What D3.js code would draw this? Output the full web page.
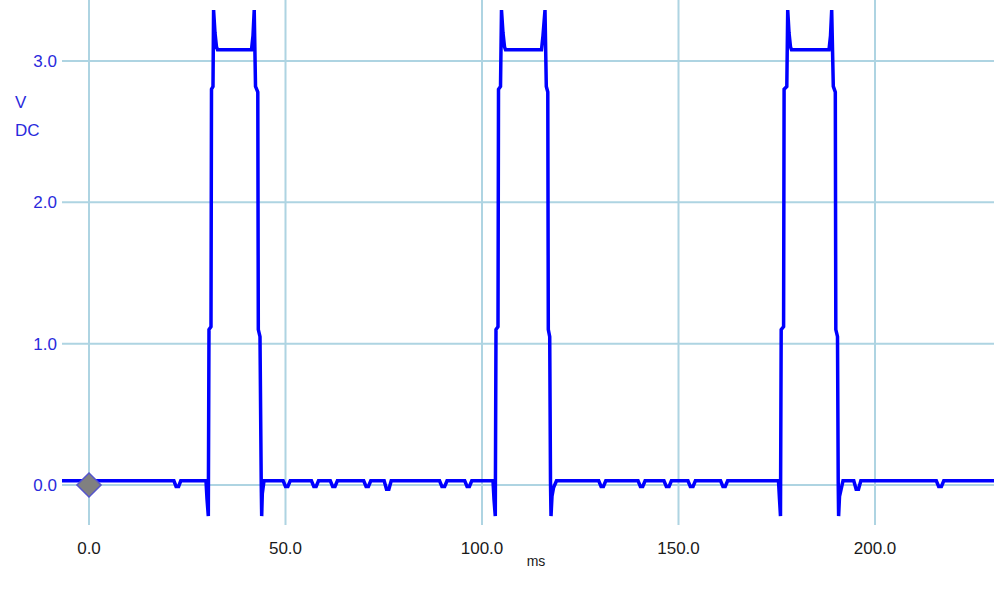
<!DOCTYPE html>
<html>
<head>
<meta charset="utf-8">
<script src="https://cdn.jsdelivr.net/npm/d3@7"></script>
<style>
  html, body { margin: 0; padding: 0; background: #ffffff; }
  svg { display: block; }
  text { font-family: "Liberation Sans", "DejaVu Sans", sans-serif; }
</style>
</head>
<body>
<div id="chart"></div>
<script>
// ============ data (ms / volts) ============
const timeMs = [
  -8, 21.6, 22.15, 22.8, 23.35,
  // pulse 1
  29.77, 30.03, 30.36, 30.53, 31.04, 31.17, 31.55, 31.70, 32.06, 32.44, 32.70,
  41.35, 41.73, 42.04, 42.37, 42.95, 43.08, 43.51, 43.82, 43.94, 44.10, 44.53,
  49.4, 50.0, 50.6, 51.2,
  56.6, 57.2, 57.8, 58.4,
  61.4, 62.0, 62.6, 63.2,
  69.9, 70.5, 71.1, 71.7,
  75.1, 75.7, 76.3, 76.9,
  89.2, 89.8, 90.5, 91.1,
  95.6, 96.2, 96.8, 97.4,
  // pulse 2
  102.80, 103.05, 103.38, 103.56, 104.07, 104.20, 104.71, 104.96, 105.34, 105.73, 105.98,
  115.14, 115.52, 116.03, 116.36, 116.74, 116.87, 117.23, 117.43, 117.56, 117.81, 118.19, 118.96,
  129.7, 130.3, 130.9, 131.5,
  139.7, 140.3, 140.9, 141.5,
  146.3, 146.9, 147.6, 148.2,
  152.4, 153.0, 153.7, 154.3,
  160.7, 161.3, 161.9, 162.5,
  // pulse 3
  175.44, 175.70, 175.95, 176.13, 176.74, 176.87, 177.56, 177.79, 178.12, 178.50, 178.75,
  188.30, 188.68, 188.98, 189.39, 189.90, 190.03, 190.46, 190.64, 190.74, 190.97, 191.86,
  194.6, 195.2, 195.8, 196.4,
  215.6, 216.2, 216.9, 217.5,
  234
];
const volts = [
  0.03, 0.03, -0.01, -0.01, 0.03,
  // pulse 1
  0.03, -0.10, -0.22, 1.10, 1.12, 2.80, 2.82, 3.36, 3.20, 3.10, 3.08,
  3.08, 3.18, 3.36, 2.82, 2.78, 1.10, 1.05, 0.02, -0.22, -0.06, 0.03,
  0.03, -0.01, -0.01, 0.03,
  0.03, -0.01, -0.01, 0.03,
  0.03, -0.01, -0.01, 0.03,
  0.03, -0.01, -0.01, 0.03,
  0.03, -0.03, -0.03, 0.03,
  0.03, -0.01, -0.01, 0.03,
  0.03, -0.01, -0.01, 0.03,
  // pulse 2
  0.03, -0.10, -0.22, 1.10, 1.12, 2.80, 2.82, 3.36, 3.20, 3.10, 3.08,
  3.08, 3.18, 3.36, 2.82, 2.78, 1.10, 1.05, 0.02, -0.22, -0.08, -0.02, 0.03,
  0.03, -0.01, -0.01, 0.03,
  0.03, -0.01, -0.01, 0.03,
  0.03, -0.01, -0.01, 0.03,
  0.03, -0.01, -0.01, 0.03,
  0.03, -0.01, -0.01, 0.03,
  // pulse 3
  0.03, -0.10, -0.22, 1.10, 1.12, 2.80, 2.82, 3.36, 3.20, 3.10, 3.08,
  3.08, 3.18, 3.36, 2.82, 2.78, 1.10, 1.05, 0.02, -0.22, -0.08, 0.03,
  0.03, -0.03, -0.03, 0.03,
  0.03, -0.01, -0.01, 0.03,
  0.03
];
const xTicks = [0, 50, 100, 150, 200];
const yTicks = [0, 1, 2, 3];
const xLabel = "ms";
const yLabel = ["V", "DC"];
const cursorMs = 0, cursorV = 0;

//===================== plot size =========================
const W = 994, H = 594;
const plot = {left: 62, right: 994, top: 0, bottom: 525};

const x = d3.scaleLinear()
  .domain([(plot.left - 89) / 3.93, (plot.right - 89) / 3.93])
  .range([plot.left, plot.right]);
const y = d3.scaleLinear()
  .domain([-40 / 141.33, 485 / 141.33])
  .range([plot.bottom, plot.top]);

const svg = d3.select("#chart").append("svg")
  .attr("width", W).attr("height", H);

svg.append("defs").append("clipPath").attr("id", "clip")
  .append("rect")
  .attr("x", plot.left).attr("y", plot.top)
  .attr("width", plot.right - plot.left).attr("height", plot.bottom - plot.top);

// grid
const gridColor = "#aed4e2";
svg.append("g").selectAll("line")
  .data(xTicks).enter().append("line")
  .attr("x1", d => x(d)).attr("x2", d => x(d))
  .attr("y1", plot.top).attr("y2", plot.bottom)
  .attr("stroke", gridColor).attr("stroke-width", 2);
svg.append("g").selectAll("line")
  .data(yTicks).enter().append("line")
  .attr("x1", plot.left).attr("x2", plot.right)
  .attr("y1", d => y(d)).attr("y2", d => y(d))
  .attr("stroke", gridColor).attr("stroke-width", 2);

// tick labels
svg.append("g").selectAll("text")
  .data(yTicks).enter().append("text")
  .attr("x", 57).attr("y", d => y(d))
  .attr("dy", "0.36em")
  .attr("text-anchor", "end")
  .attr("font-size", 17)
  .attr("fill", "#2a2adc")
  .text(d => d.toFixed(1));

svg.append("g").selectAll("text")
  .data(xTicks).enter().append("text")
  .attr("x", d => x(d)).attr("y", 548)
  .attr("dy", "0.36em")
  .attr("text-anchor", "middle")
  .attr("font-size", 17)
  .attr("fill", "#1a1a1a")
  .text(d => d.toFixed(1));

svg.append("text")
  .attr("x", 536).attr("y", 561).attr("dy", "0.36em")
  .attr("text-anchor", "middle")
  .attr("font-size", 14)
  .attr("fill", "#1a1a1a")
  .text(xLabel);

svg.append("g").selectAll("text")
  .data(yLabel).enter().append("text")
  .attr("x", 15).attr("y", (d, i) => 102 + i * 28)
  .attr("dy", "0.36em")
  .attr("font-size", 17)
  .attr("fill", "#2a2adc")
  .text(d => d);

// waveform
const pts = timeMs.map((t, i) => [t, volts[i]]);
const line = d3.line().x(d => x(d[0])).y(d => y(d[1]));
svg.append("path")
  .datum(pts)
  .attr("clip-path", "url(#clip)")
  .attr("d", line)
  .attr("fill", "none")
  .attr("stroke", "#0000ff")
  .attr("stroke-width", 3.5)
  .attr("stroke-linejoin", "miter")
  .attr("stroke-miterlimit", 2);

// cursor marker
svg.append("path")
  .attr("d", d3.symbol(d3.symbolSquare, 290)())
  .attr("transform", "translate(" + x(cursorMs) + "," + y(cursorV) + ") rotate(45)")
  .attr("fill", "#808080")
  .attr("stroke", "#5555cc")
  .attr("stroke-width", 1.5);
</script>
</body>
</html>
